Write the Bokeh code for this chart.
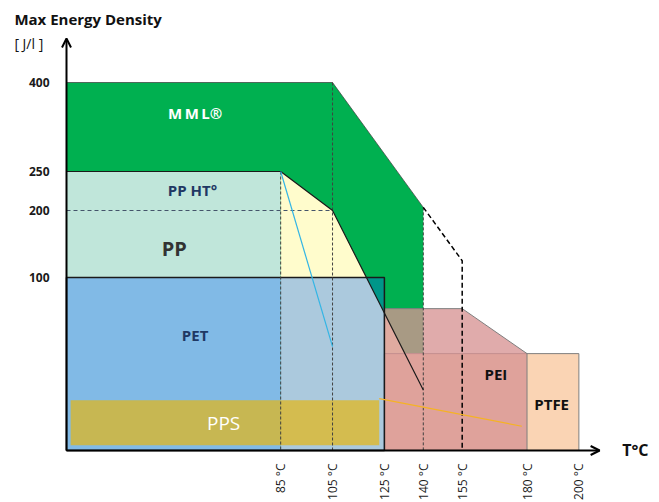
import math
import numpy as np
from bokeh.plotting import figure
from bokeh.models import Range1d, FixedTicker, Arrow, OpenHead, Label
from bokeh.core.properties import value
from bokeh.embed import file_html
from bokeh.resources import INLINE

# ---------------- data ----------------
temp_ticks = [85, 105, 125, 140, 155, 180, 200]
temp_tick_labels = ["85 °C", "105 °C", "125 °C", "140 °C", "155 °C", "180 °C", "200 °C"]
energy_ticks = [100, 200, 250, 400]
energy_tick_labels = ["100", "200", "250", "400"]

# schematic (non-linear) energy axis: energy value -> axis height
scale_energy = [0, 100, 200, 250, 400]
scale_height = [0, 173, 240, 279, 368]

T0 = 2.4          # temperature at the vertical axis

mml_t = [T0, 105, 140, 140, T0]
mml_e = [400, 400, 204, 0, 0]

pp_ht_t = [T0, 85, 85, T0]
pp_ht_e = [250, 250, 0, 0]

pp_t = [85, 105, 140, 140, 85]
pp_e = [250, 200, 35, 0, 0]

ptfe_t = [125, 200]
ptfe_e = [0, 56]

pei_t = [125, 155, 180, 180, 125]
pei_e = [82, 82, 56, 0, 0]

pet_t = [T0, 125]
pet_e = [0, 100]

pps_t = [4, 123]
pps_e = [3, 29]

pp_line_t = [T0, 85, 105, 140]
pp_line_e = [250, 250, 200, 35]

pp_ht_line_t = [85, 105]
pp_ht_line_e = [250, 60]

pps_line_t = [123, 178]
pps_line_e = [30, 14]

mml_ext_t = [140, 155, 155]
mml_ext_e = [204, 125, 0]


def ey(e):
    return np.interp(e, scale_energy, scale_height)


FONT = "Open Sans"
PX_PER_DEG = 2.593

p = figure(width=659, height=502,
           x_range=Range1d(T0 - 66 / PX_PER_DEG, T0 + (659 - 66) / PX_PER_DEG),
           y_range=Range1d(-52, 450),
           output_backend="svg", toolbar_location=None,
           min_border_left=0, min_border_right=0, min_border_top=0, min_border_bottom=0)
p.grid.visible = False
p.outline_line_color = None

# ---- areas ----
p.patch(mml_t, ey(mml_e), fill_color="#00B050", line_color=None)
p.patch(pp_ht_t, ey(pp_ht_e), fill_color="#C0E6DA", line_color=None)
p.patch(pp_t, ey(pp_e), fill_color="#FFFCCC", line_color=None)
p.quad(left=ptfe_t[0], right=ptfe_t[1], bottom=ey(ptfe_e[0]), top=ey(ptfe_e[1]),
       fill_color="#FAD4B4", line_color="#7F7F7F", line_width=1)
p.patch(pei_t, ey(pei_e), fill_color="#D79393", fill_alpha=0.78,
        line_color="#7F7F7F", line_width=1)
p.quad(left=pet_t[0], right=pet_t[1], bottom=ey(pet_e[0]), top=ey(pet_e[1]),
       fill_color="#0061FF", fill_alpha=0.33, line_color="#1A1A1A", line_width=1.5)
p.quad(left=pps_t[0], right=pps_t[1], bottom=ey(pps_e[0]), top=ey(pps_e[1]),
       fill_color="#E6B713", fill_alpha=0.7, line_color=None)

# ---- lines ----
p.line([T0, 105, 140], ey([400, 400, 204]), line_color="#3A3A3A", line_alpha=0.7, line_width=1)
p.line([T0, 105], ey([200, 200]), line_color="#44546A", line_dash="4 3", line_width=1)
for t, e in [(85, 250), (105, 400), (140, 204)]:
    p.line([t, t], ey([e, 0]), line_color="#404040", line_dash="3 2", line_width=1)
p.line(mml_ext_t, ey(mml_ext_e), line_color="#000000", line_dash="5 3", line_width=1.5)
p.line(pp_line_t, ey(pp_line_e), line_color="#1A1A1A", line_width=1.2)
p.line(pp_ht_line_t, ey(pp_ht_line_e), line_color="#33B5E5", line_width=1.2)
p.line(pps_line_t, ey(pps_line_e), line_color="#F5B324", line_width=1.2)

# ---- region labels ----
def txt(t, e, s, color, size, style="bold"):
    p.text(x=[t], y=[float(ey(e))], text=[s], text_font=value(FONT),
           text_font_size=size, text_font_style=style, text_color=color,
           text_align="center", text_baseline="middle")

txt(52, 348, "M\u2009M\u2009L®", "#FFFFFF", "15px")
txt(51, 226, "PP HT°", "#1F3864", "15px")
txt(44, 143, "PP", "#333333", "20px")
txt(52, 67, "PET", "#1F3864", "15px")
txt(63, 16, "PPS", "#FFFFFF", "19px", "normal")
txt(168, 44, "PEI", "#111111", "15px")
txt(189.5, 27, "PTFE", "#111111", "15px")

# ---- axes (drawn at the arrow positions) ----
p.xaxis.fixed_location = 0
p.xaxis.ticker = FixedTicker(ticks=temp_ticks)
p.xaxis.major_label_overrides = dict(zip(temp_ticks, temp_tick_labels))
p.xaxis.axis_line_color = None
p.xaxis.major_tick_line_color = None
p.xaxis.minor_tick_line_color = None
p.xaxis.major_label_orientation = math.pi / 2
p.xaxis.major_label_standoff = 7
p.xaxis.major_label_text_font = FONT
p.xaxis.major_label_text_font_size = "12px"
p.xaxis.major_label_text_color = "#1A1A1A"

ytick_pos = [int(round(float(ey(e)))) for e in energy_ticks]
p.yaxis.fixed_location = T0
p.yaxis.ticker = FixedTicker(ticks=ytick_pos)
p.yaxis.major_label_overrides = dict(zip(ytick_pos, energy_tick_labels))
p.yaxis.axis_line_color = None
p.yaxis.major_tick_line_color = None
p.yaxis.minor_tick_line_color = None
p.yaxis.major_label_standoff = 11
p.yaxis.major_label_text_font = FONT
p.yaxis.major_label_text_font_size = "12px"
p.yaxis.major_label_text_font_style = "bold"
p.yaxis.major_label_text_color = "#1A1A1A"

p.add_layout(Arrow(end=OpenHead(size=9, line_width=2), x_start=T0, y_start=0,
                   x_end=T0, y_end=412, line_width=2, line_color="black"))
p.add_layout(Arrow(end=OpenHead(size=9, line_width=2), x_start=T0, y_start=0,
                   x_end=208, y_end=0, line_width=2, line_color="black"))

p.add_layout(Label(x=221.8, y=1, text="T°C", text_font=FONT, text_font_size="16px",
                   text_font_style="bold", text_align="center", text_baseline="middle",
                   text_color="#111111"))
p.add_layout(Label(x=-17.7, y=432, text="Max Energy Density", text_font=FONT,
                   text_font_size="15px", text_font_style="bold", text_baseline="middle",
                   text_color="#111111"))
p.add_layout(Label(x=-17.7, y=407, text="[ J/l ]", text_font=FONT, text_font_size="14px",
                   text_baseline="middle", text_color="#111111"))

open("out.html", "w").write(file_html(p, INLINE))
